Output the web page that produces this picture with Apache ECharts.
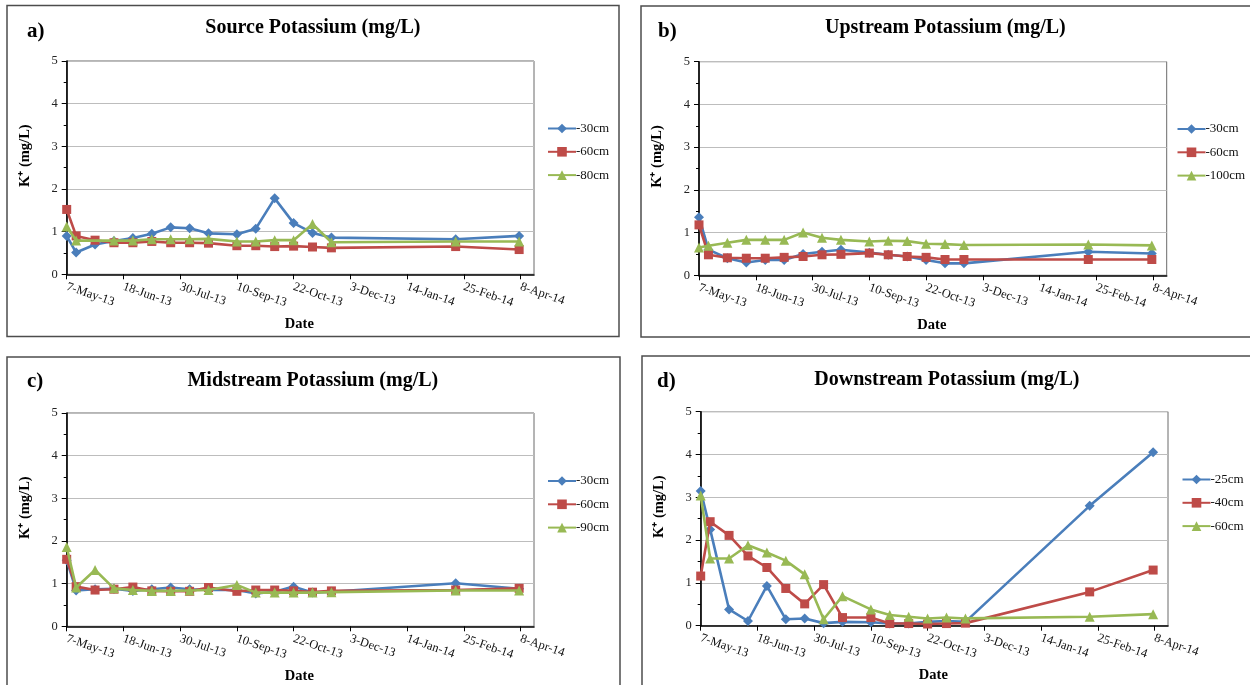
<!DOCTYPE html>
<html>
<head>
<meta charset="utf-8">
<title>Potassium (mg/L)</title>
<script src="https://cdn.jsdelivr.net/npm/echarts@6/dist/echarts.min.js"></script>
<style>
  html, body { margin: 0; padding: 0; background: #ffffff; }
  #chart { width: 1250px; height: 685px; }
</style>
</head>
<body>
<div id="chart"></div>
<script>
// ---- Data ---------------------------------------------------------------
// Date-axis tick labels (every 42 days from 7-May-13)
const tickLabels = ['7-May-13', '18-Jun-13', '30-Jul-13', '10-Sep-13', '22-Oct-13',
                    '3-Dec-13', '14-Jan-14', '25-Feb-14', '8-Apr-14'];

// Sampling dates
const sampleDates = ['2013-05-07', '2013-05-14', '2013-05-28', '2013-06-11', '2013-06-25',
                     '2013-07-09', '2013-07-23', '2013-08-06', '2013-08-20', '2013-09-10',
                     '2013-09-24', '2013-10-08', '2013-10-22', '2013-11-05', '2013-11-19',
                     '2014-02-19', '2014-04-07'];

// a) Source
const sourceDepths = ['-30cm', '-60cm', '-80cm'];
const sourceK30 = [0.90, 0.51, 0.70, 0.78, 0.85, 0.95, 1.10, 1.08, 0.96, 0.94, 1.07, 1.78, 1.20, 0.97, 0.86, 0.82, 0.90];
const sourceK60 = [1.52, 0.90, 0.80, 0.74, 0.74, 0.77, 0.74, 0.74, 0.73, 0.67, 0.67, 0.65, 0.66, 0.64, 0.62, 0.65, 0.58];
const sourceK80 = [1.12, 0.79, null, 0.79, 0.79, 0.82, 0.82, 0.82, 0.83, 0.77, 0.77, 0.80, 0.80, 1.18, 0.75, 0.77, 0.77];

// b) Upstream
const upstreamDepths = ['-30cm', '-60cm', '-100cm'];
const upstreamK30 = [1.36, 0.60, 0.40, 0.30, 0.36, 0.36, 0.50, 0.55, 0.60, 0.53, 0.48, 0.44, 0.36, 0.28, 0.28, 0.55, 0.51];
const upstreamK60 = [1.18, 0.48, 0.41, 0.40, 0.40, 0.42, 0.44, 0.48, 0.49, 0.52, 0.48, 0.44, 0.42, 0.37, 0.37, 0.37, 0.37];
const upstreamK100 = [0.65, 0.69, 0.76, 0.83, 0.83, 0.83, 1.00, 0.88, 0.83, 0.79, 0.81, 0.80, 0.74, 0.73, 0.71, 0.72, 0.70];

// c) Midstream
const midstreamDepths = ['-30cm', '-60cm', '-90cm'];
const midstreamK30 = [1.55, 0.84, 0.87, 0.88, 0.83, 0.87, 0.91, 0.87, 0.85, 0.85, 0.77, 0.81, 0.93, 0.79, 0.81, 1.01, 0.88];
const midstreamK60 = [1.57, 0.93, 0.85, 0.87, 0.92, 0.83, 0.82, 0.82, 0.91, 0.82, 0.85, 0.85, 0.83, 0.80, 0.83, 0.85, 0.89];
const midstreamK90 = [1.86, 0.91, 1.32, 0.89, 0.85, 0.83, 0.83, 0.84, 0.85, 0.97, 0.79, 0.79, 0.79, 0.79, 0.80, 0.84, 0.84];

// d) Downstream
const downstreamDepths = ['-25cm', '-40cm', '-60cm'];
const downstreamK25 = [3.15, 2.25, 0.38, 0.11, 0.93, 0.15, 0.17, 0.06, 0.09, 0.08, 0.05, 0.05, 0.09, 0.11, 0.09, 2.80, 4.05];
const downstreamK40 = [1.16, 2.43, 2.11, 1.63, 1.36, 0.87, 0.51, 0.96, 0.19, 0.19, 0.05, 0.05, 0.04, 0.05, 0.06, 0.79, 1.30];
const downstreamK60 = [3.04, 1.57, 1.57, 1.88, 1.71, 1.52, 1.20, 0.15, 0.69, 0.38, 0.25, 0.21, 0.17, 0.19, 0.17, 0.21, 0.27];

// ---- Helpers ------------------------------------------------------------
const DAY_MS = 86400000;
const TICK_DAYS = 42;
const axisOrigin = Date.UTC(2013, 4, 7);
const dayOffset = s => Math.round((Date.parse(s + 'T00:00:00Z') - axisOrigin) / DAY_MS);
const xDays = sampleDates.map(dayOffset);
const toPairs = vals => vals.map((v, i) => [xDays[i], v]).filter(p => p[1] !== null);

const FONT = '"Liberation Serif", "Times New Roman", serif';
const COLORS = ['#4A7EBB', '#BE4B48', '#98B954'];
const SYMBOLS = ['diamond', 'rect', 'triangle'];
const SYMBOL_SIZES = [10, 9, 10];

// ---- Panel layout -------------------------------------------------------
const panels = [
  { key: 'a', letter: 'a)', title: 'Source Potassium (mg/L)', names: sourceDepths,
    values: [sourceK30, sourceK60, sourceK80],
    box: [7, 5.5, 612, 331], grid: { left: 66.7, top: 61, width: 467.3, height: 213.3 },
    legend: { left: 547, top: 121 }, letterPos: [27, 31.5], titleY: 27.7 },
  { key: 'b', letter: 'b)', title: 'Upstream Potassium (mg/L)', names: upstreamDepths,
    values: [upstreamK30, upstreamK60, upstreamK100],
    box: [641, 6, 650, 331], grid: { left: 699, top: 61.7, width: 467.7, height: 213.6 },
    legend: { left: 1176.5, top: 121.5 }, letterPos: [658, 31.5], titleY: 28.3 },
  { key: 'c', letter: 'c)', title: 'Midstream Potassium (mg/L)', names: midstreamDepths,
    values: [midstreamK30, midstreamK60, midstreamK90],
    box: [7, 357, 613, 400], grid: { left: 66.7, top: 413, width: 467.3, height: 213.3 },
    legend: { left: 547, top: 473.5 }, letterPos: [27, 381.5], titleY: 380.4 },
  { key: 'd', letter: 'd)', title: 'Downstream Potassium (mg/L)', names: downstreamDepths,
    values: [downstreamK25, downstreamK40, downstreamK60],
    box: [642, 356, 650, 400], grid: { left: 700.7, top: 411.7, width: 467.3, height: 214 },
    legend: { left: 1181.5, top: 472 }, letterPos: [657, 381.5], titleY: 379.4 }
];

// ---- Build option -------------------------------------------------------
const grids = [], xAxes = [], yAxes = [], series = [], legends = [], graphics = [];

panels.forEach((p, i) => {
  grids.push(Object.assign({ show: true, borderColor: '#6b6b6b', borderWidth: 1,
                             backgroundColor: '#ffffff' }, p.grid));

  xAxes.push({
    gridIndex: i, type: 'value', min: 0, max: 346, interval: TICK_DAYS,
    axisLine: { show: true, onZero: false, lineStyle: { color: '#000', width: 1.6 } },
    axisTick: { show: true, length: 5, lineStyle: { color: '#000', width: 1 } },
    splitLine: { show: false },
    axisLabel: {
      rotate: -19, margin: 12, fontFamily: FONT, fontSize: 12.5, color: '#111',
      showMaxLabel: false,
      formatter: v => (v % TICK_DAYS === 0 ? (tickLabels[v / TICK_DAYS] || '') : '')
    }
  });

  yAxes.push({
    gridIndex: i, type: 'value', min: 0, max: 5, interval: 1,
    axisLine: { show: true, lineStyle: { color: '#000', width: 1.6 } },
    axisTick: { show: true, length: 5, lineStyle: { color: '#000', width: 1 } },
    minorTick: { show: true, splitNumber: 2, length: 3, lineStyle: { color: '#000', width: 1 } },
    splitLine: { show: true, lineStyle: { color: '#bdbdbd', width: 1 } },
    axisLabel: { margin: 9, fontFamily: FONT, fontSize: 12.5, color: '#222' }
  });

  const seriesNames = p.names.map(n => p.key + '|' + n);
  p.values.forEach((vals, j) => {
    series.push({
      type: 'line', name: seriesNames[j], xAxisIndex: i, yAxisIndex: i,
      data: toPairs(vals),
      symbol: SYMBOLS[j], symbolSize: SYMBOL_SIZES[j], showSymbol: true, showAllSymbol: true,
      lineStyle: { color: COLORS[j], width: 2.6 },
      itemStyle: { color: COLORS[j], borderColor: COLORS[j], borderWidth: 0 },
      z: 2 + j, animation: false
    });
  });

  legends.push({
    orient: 'vertical', left: p.legend.left, top: p.legend.top + 1,
    data: seriesNames, itemWidth: 28, itemHeight: 12, itemGap: 10.3,
    selectedMode: false, padding: 0,
    formatter: name => name.split('|')[1],
    textStyle: { fontFamily: FONT, fontSize: 13, color: '#111', padding: [0, 0, 0, -5] }
  });

  // Outer panel frame
  graphics.push({
    type: 'rect', silent: true, z: 0,
    shape: { x: p.box[0], y: p.box[1], width: p.box[2], height: p.box[3] },
    style: { fill: 'none', stroke: '#4d4d4d', lineWidth: 1.5 }
  });
  // Panel letter
  graphics.push({
    type: 'text', x: p.letterPos[0], y: p.letterPos[1], z: 10,
    style: { text: p.letter, font: 'bold 21px ' + FONT, fill: '#000',
             align: 'left', verticalAlign: 'middle' }
  });
  // Panel title
  graphics.push({
    type: 'text', x: p.grid.left + p.grid.width / 2 + 12.5, y: p.titleY, z: 10,
    style: { text: p.title, font: 'bold 20px ' + FONT, fill: '#000',
             align: 'center', verticalAlign: 'middle' }
  });
  // Y-axis title
  graphics.push({
    type: 'text', x: p.grid.left - 41.5, y: p.grid.top + p.grid.height / 2 - 12, z: 10,
    rotation: Math.PI / 2,
    style: { text: 'K⁺ (mg/L)', font: 'bold 14.5px ' + FONT, fill: '#000',
             align: 'center', verticalAlign: 'middle' }
  });
  // X-axis title
  graphics.push({
    type: 'text', x: p.grid.left + p.grid.width / 2 - 1, y: p.grid.top + p.grid.height + 50, z: 10,
    style: { text: 'Date', font: 'bold 14.5px ' + FONT, fill: '#000',
             align: 'center', verticalAlign: 'middle' }
  });
});

const chart = echarts.init(document.getElementById('chart'), null, { renderer: 'canvas' });
chart.setOption({
  backgroundColor: '#ffffff',
  animation: false,
  grid: grids, xAxis: xAxes, yAxis: yAxes,
  legend: legends, series: series, graphic: graphics
});
</script>
</body>
</html>
